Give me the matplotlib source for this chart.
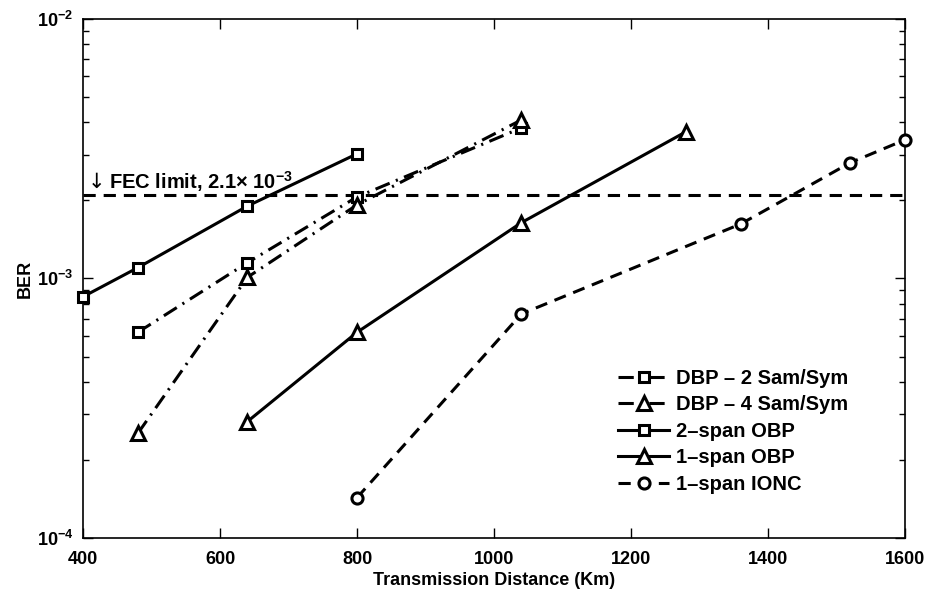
"""BER vs transmission distance for DBP / OBP / IONC schemes."""

import matplotlib

matplotlib.use("Agg")
import matplotlib.pyplot as plt  # noqa: E402
from matplotlib.ticker import LogLocator, NullFormatter  # noqa: E402

plt.rcParams["font.family"] = ["Liberation Sans", "DejaVu Sans"]
plt.rcParams["font.weight"] = "bold"
plt.rcParams["mathtext.fontset"] = "custom"
plt.rcParams["mathtext.rm"] = "Liberation Sans:bold"
plt.rcParams["mathtext.bf"] = "Liberation Sans:bold"
plt.rcParams["mathtext.it"] = "Liberation Sans:bold:italic"
plt.rcParams["mathtext.default"] = "rm"

# distances in km, BER
dbp2_km = [480, 640, 800, 1040]
dbp2_ber = [6.2e-4, 1.15e-3, 2.06e-3, 3.8e-3]

dbp4_km = [480, 640, 800, 1040]
dbp4_ber = [2.53e-4, 1.01e-3, 1.92e-3, 4.08e-3]

obp2_km = [400, 480, 640, 800]
obp2_ber = [8.5e-4, 1.10e-3, 1.90e-3, 3.02e-3]

obp1_km = [640, 800, 1040, 1280]
obp1_ber = [2.81e-4, 6.2e-4, 1.64e-3, 3.67e-3]

ionc_km = [800, 1040, 1360, 1520, 1600]
ionc_ber = [1.43e-4, 7.3e-4, 1.62e-3, 2.79e-3, 3.42e-3]

fec_limit = 2.1e-3
x_ticks = [400, 600, 800, 1000, 1200, 1400, 1600]

fig = plt.figure(figsize=(9.33, 5.92), dpi=100)
ax = fig.add_axes([0.089, 0.0912, 0.881, 0.877])

dashdot = (0, (5, 2.2, 0.7, 2.2))
dashed = (0, (4, 2.6))
common = dict(color="black", lw=2.2, markerfacecolor="white",
              markeredgecolor="black", markeredgewidth=2.2, clip_on=False,
              zorder=3)

ax.axhline(fec_limit, color="black", lw=2.2, linestyle=dashed)

ax.plot(dbp2_km, dbp2_ber, linestyle=dashdot, marker="s", markersize=7,
        label="DBP – 2 Sam/Sym", **common)
ax.plot(dbp4_km, dbp4_ber, linestyle=dashdot, marker="^", markersize=10,
        label="DBP – 4 Sam/Sym", **common)
ax.plot(obp2_km, obp2_ber, linestyle="-", marker="s", markersize=7,
        label="2–span OBP", **common)
ax.plot(obp1_km, obp1_ber, linestyle="-", marker="^", markersize=10,
        label="1–span OBP", **common)
ax.plot(ionc_km, ionc_ber, linestyle=dashed, marker="o", markersize=8,
        label="1–span IONC", **common)

ax.text(407, 2.36e-3, "↓", fontsize=15, fontweight="normal",
        family="DejaVu Sans", ha="left", va="center")
ax.text(438, 2.36e-3, r"FEC limit, 2.1$\times$ 10$^{-3}$",
        fontsize=14.5, fontweight="bold", ha="left", va="center")

ax.set_yscale("log")
ax.set_xlim(400, 1600)
ax.set_ylim(1e-4, 1e-2)
ax.set_xticks(x_ticks)
ax.yaxis.set_minor_locator(LogLocator(base=10, subs=range(2, 10)))
ax.yaxis.set_minor_formatter(NullFormatter())

ax.tick_params(which="both", direction="in", top=True, right=True,
               labelsize=13, width=1)
ax.tick_params(which="major", length=7)
ax.tick_params(which="minor", length=4)
ax.tick_params(axis="y", pad=7)
ax.tick_params(axis="x", pad=9)
for lab in ax.get_xticklabels() + ax.get_yticklabels():
    lab.set_fontweight("bold")
for spine in ax.spines.values():
    spine.set_linewidth(1.2)

ax.set_xlabel("Transmission Distance (Km)", fontsize=13, fontweight="bold",
              labelpad=3)
ax.set_ylabel("BER", fontsize=13, fontweight="bold", labelpad=2)

ax.legend(loc="upper left", bbox_to_anchor=(0.639, 0.345), frameon=False,
          borderpad=0, handlelength=2.5, handletextpad=0.35,
          labelspacing=0.37, prop={"weight": "bold", "size": 14.5})

fig.savefig("out.png", dpi=100)
